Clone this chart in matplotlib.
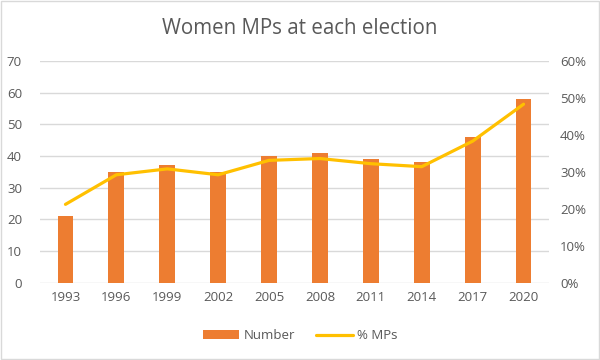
import matplotlib.pyplot as plt
from matplotlib.ticker import PercentFormatter
from matplotlib.patches import Rectangle

# Datos
anios = ["1993", "1996", "1999", "2002", "2005", "2008", "2011", "2014", "2017", "2020"]
numero = [21, 35, 37, 35, 40, 41, 39, 38, 46, 58]
porcentaje = [21.2, 29.2, 30.8, 29.2, 33.1, 33.6, 32.2, 31.4, 38.3, 48.3]

gris = "#595959"
plt.rcParams["font.family"] = ["Open Sans", "DejaVu Sans"]

fig = plt.figure(figsize=(6, 3.6), dpi=100)
fig.patches.append(Rectangle((0.002, 0.003), 0.996, 0.994, transform=fig.transFigure,
                             fill=False, edgecolor="#D9D9D9", linewidth=1))
ax = fig.add_axes([0.0667, 0.2147, 0.8483, 0.616])
ax2 = ax.twinx()

x = range(len(anios))
barras = ax.bar(x, numero, width=0.31, color="#ED7D31", label="Number", zorder=2)
linea, = ax2.plot(x, porcentaje, color="#FFC000", linewidth=2.3, label="% MPs",
                  solid_capstyle="round", zorder=3)

ax.set_xlim(-0.5, len(anios) - 0.5)
ax.set_ylim(0, 70)
ax.set_yticks(range(0, 71, 10))
ax2.set_ylim(0, 60)
ax2.set_yticks(range(0, 61, 10))
ax2.yaxis.set_major_formatter(PercentFormatter(decimals=0))
ax.set_xticks(list(x))
ax.set_xticklabels(anios)

ax.grid(axis="y", color="#D9D9D9", linewidth=1, zorder=0)
ax.set_axisbelow(True)
for a in (ax, ax2):
    for s in a.spines.values():
        s.set_visible(False)
    a.tick_params(length=0, labelsize=9.5, labelcolor=gris)
ax.tick_params(axis="y", pad=13)
ax2.tick_params(axis="y", pad=8)
ax.tick_params(axis="x", pad=6)

fig.text(0.5, 0.922, "Women MPs at each election", ha="center", va="center",
         fontsize=14.8, color=gris)
fig.legend(handles=[barras, linea], loc="center", bbox_to_anchor=(0.5, 0.068),
           ncol=2, frameon=False, fontsize=9.5, labelcolor=gris,
           handlelength=2.8, handleheight=0.6, columnspacing=1.6, handletextpad=0.3)

fig.savefig("out.png", dpi=100)
